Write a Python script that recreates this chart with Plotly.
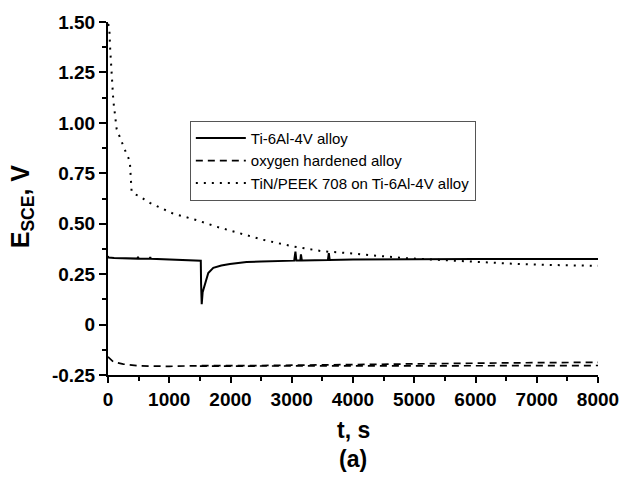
import plotly.graph_objects as go

# Ti-6Al-4V alloy (solid)
t_ti = [0, 5, 100, 480, 490, 500, 680, 690, 700, 1000, 1500, 1515, 1520, 1530, 1545, 1582, 1637,
        1719, 1850, 1990, 2262, 2500, 2806, 3040, 3060, 3075, 3140, 3150, 3165, 3590, 3605, 3620,
        4000, 5000, 6000, 8000]
e_ti = [0.34, 0.332, 0.33, 0.327, 0.336, 0.327, 0.326, 0.334, 0.326, 0.322, 0.317, 0.317, 0.20,
        0.101, 0.16, 0.20, 0.256, 0.281, 0.293, 0.30, 0.31, 0.313, 0.316, 0.317, 0.362, 0.318,
        0.318, 0.348, 0.318, 0.32, 0.354, 0.32, 0.322, 0.324, 0.325, 0.325]

# oxygen hardened alloy (dashed, two runs)
t_oh1 = [0, 87, 250, 500, 1000, 1500, 2500, 3500, 4500, 5500, 6500, 8000]
e_oh1 = [-0.16, -0.185, -0.196, -0.205, -0.207, -0.204, -0.203, -0.199, -0.195, -0.192, -0.19, -0.187]
t_oh2 = [1500, 2500, 3500, 4500, 6000, 8000]
e_oh2 = [-0.206, -0.207, -0.205, -0.205, -0.204, -0.203]

# TiN/PEEK 708 on Ti-6Al-4V alloy (dotted)
t_tin = [0, 20, 33, 60, 87, 141, 223, 261, 305, 332, 359, 370, 375, 385, 413, 511, 592, 685, 1066,
         1446, 1773, 2153, 2533, 3023, 3512, 3730, 4274, 4817, 5253, 5633, 6177, 6721, 7300, 8000]
e_tin = [1.49, 1.48, 1.38, 1.26, 1.11, 0.97, 0.90, 0.877, 0.845, 0.828, 0.796, 0.755, 0.70, 0.662,
         0.649, 0.637, 0.621, 0.603, 0.55, 0.518, 0.485, 0.452, 0.42, 0.387, 0.363, 0.359, 0.343,
         0.33, 0.323, 0.317, 0.306, 0.30, 0.295, 0.291]

x_ticks = [0, 1000, 2000, 3000, 4000, 5000, 6000, 7000, 8000]
y_ticks = [-0.25, 0, 0.25, 0.5, 0.75, 1.0, 1.25, 1.5]
y_ticktext = ["-0.25", "0", "0.25", "0.50", "0.75", "1.00", "1.25", "1.50"]

fig = go.Figure()
fig.add_trace(go.Scatter(x=t_ti, y=e_ti, mode="lines", name="Ti-6Al-4V alloy",
                         line=dict(color="black", width=2)))
fig.add_trace(go.Scatter(x=t_oh1, y=e_oh1, mode="lines", name="oxygen hardened alloy",
                         line=dict(color="black", width=1.7, dash="7px,5px")))
fig.add_trace(go.Scatter(x=t_oh2, y=e_oh2, mode="lines", name="oxygen hardened alloy",
                         showlegend=False, line=dict(color="black", width=1.7, dash="7px,5px")))
fig.add_trace(go.Scatter(x=t_tin, y=e_tin, mode="lines", name="TiN/PEEK 708 on Ti-6Al-4V alloy",
                         line=dict(color="black", width=2, dash="2px,6px")))

axis_font = dict(family="Liberation Sans, Arial", size=19, color="black", weight="bold")
title_font = dict(family="Liberation Sans, Arial", size=23, color="black", weight="bold")

fig.update_layout(
    width=633, height=478,
    margin=dict(l=108, r=35, t=19, b=103),
    paper_bgcolor="white", plot_bgcolor="white",
    showlegend=True,
    legend=dict(x=0.167, y=0.72, xanchor="left", yanchor="top", itemwidth=50,
                bordercolor="#555555", borderwidth=1, bgcolor="white",
                font=dict(family="Liberation Sans, Arial", size=15, color="black")),
    xaxis=dict(range=[0, 8000], tickvals=x_ticks, showline=True, linecolor="black", linewidth=2,
               ticks="outside", ticklen=6, tickwidth=2, tickcolor="black",
               minor=dict(dtick=500, ticks="outside", ticklen=4, tickwidth=1.5, tickcolor="black"),
               showgrid=False, zeroline=False, tickfont=axis_font),
    yaxis=dict(range=[-0.25, 1.5], tickvals=y_ticks, ticktext=y_ticktext, showline=True,
               linecolor="black", linewidth=2,
               ticks="outside", ticklen=7, tickwidth=2, tickcolor="black",
               minor=dict(dtick=0.125, tick0=0, ticks="outside", ticklen=4, tickwidth=1.5, tickcolor="black"),
               showgrid=False, zeroline=False, tickfont=axis_font),
    annotations=[
        dict(text="t, s", xref="paper", yref="paper", x=0.5, y=0, yanchor="middle", yshift=-55,
             showarrow=False, font=title_font),
        dict(text="(a)", xref="paper", yref="paper", x=0.5, y=0, yanchor="middle", yshift=-84,
             showarrow=False, font=title_font),
        dict(text="E<sub>SCE</sub>, V", xref="paper", yref="paper", x=0, y=0.478, xanchor="center",
             yanchor="middle", xshift=-86, textangle=-90, showarrow=False,
             font=dict(family="Liberation Sans, Arial", size=25, color="black", weight="bold")),
    ],
)

fig.write_html("out.html")
